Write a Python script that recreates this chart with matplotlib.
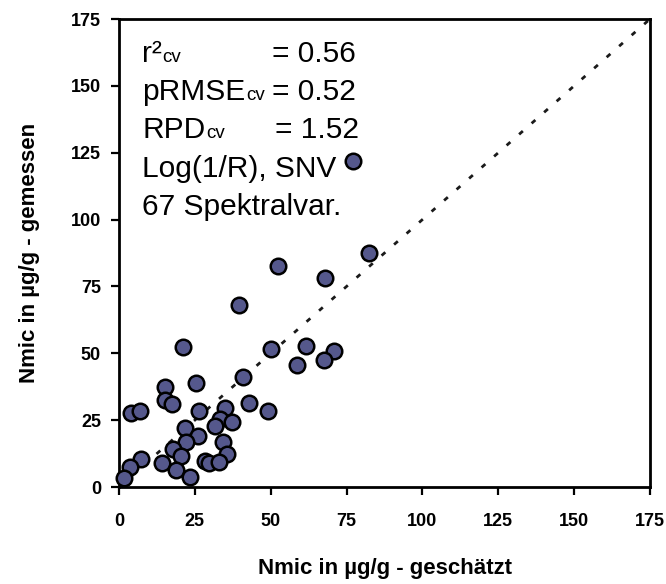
import matplotlib
matplotlib.use("Agg")
import matplotlib.pyplot as plt

plt.rcParams['font.family'] = ['Liberation Sans', 'DejaVu Sans']

# Nmic estimated (x) vs measured (y), µg/g
nmic_geschaetzt = [77.2, 82.4, 67.9, 52.5, 39.4, 21.0, 50.1, 61.5, 71.0, 58.6,
                   67.7, 40.8, 15.2, 25.3, 15.0, 17.4, 42.9, 49.2, 4.1, 6.9,
                   26.5, 34.9, 33.2, 37.1, 31.6, 21.9, 26.0, 22.1, 34.2, 17.9,
                   20.4, 35.5, 7.4, 14.1, 28.5, 29.6, 33.1, 3.6, 18.7, 23.5,
                   1.6]
nmic_gemessen = [122.0, 87.6, 78.0, 82.6, 68.0, 52.2, 51.5, 52.9, 50.9, 45.6,
                 47.5, 41.3, 37.4, 38.8, 32.5, 31.0, 31.4, 28.4, 27.7, 28.5,
                 28.3, 29.4, 25.5, 24.4, 22.9, 22.2, 19.0, 16.9, 16.9, 14.2,
                 11.6, 12.4, 10.5, 8.9, 9.8, 8.9, 9.3, 7.4, 6.2, 3.8,
                 3.4]

ticks = [0, 25, 50, 75, 100, 125, 150, 175]
axis_max = 175

fig = plt.figure(figsize=(6.66, 5.84), dpi=100)
ax = fig.add_axes([119 / 666, 1 - 487 / 584, (650 - 119) / 666, (487 - 19) / 584])

# 1:1 line
ax.plot([0, axis_max], [0, axis_max], color='#1a1a1a', lw=2,
        ls=(0, (1.8, 4.2)), zorder=1)

ax.scatter(nmic_geschaetzt, nmic_gemessen, s=125, color='#55588c',
           edgecolor='black', linewidth=1.8, zorder=3, clip_on=False)

ax.set_xlim(0, axis_max)
ax.set_ylim(0, axis_max)
ax.set_xticks(ticks)
ax.set_yticks(ticks)
ax.tick_params(direction='out', length=6, width=1.6, labelsize=13)
ax.tick_params(axis='y', pad=7)
ax.tick_params(axis='x', pad=13)
for lab in ax.get_xticklabels() + ax.get_yticklabels():
    lab.set_fontweight('bold')
for sp in ax.spines.values():
    sp.set_linewidth(2)

ax.set_xlabel('Nmic in µg/g - geschätzt', fontsize=16, fontweight='bold',
              labelpad=20)
ax.set_ylabel('Nmic in µg/g - gemessen', fontsize=16, fontweight='bold',
              labelpad=22)

# statistics block
big = 21.5
small = 13.5
x0 = 7.6
rows = [('r²', 'cv', '= 0.56', 158.9, 50.4),
        ('pRMSE', 'cv', '= 0.52', 144.7, 50.4),
        ('RPD', 'cv', '= 1.52', 130.5, 51.4)]
for main, sub, val, y, xv in rows:
    t = ax.text(x0, y, main, fontsize=big, va='baseline', ha='left')
    ax.annotate(sub, xy=(1, 0), xycoords=t, xytext=(0.5, 1.5),
                textcoords='offset points', fontsize=small,
                va='bottom', ha='left')
    ax.text(xv, y, val, fontsize=big, va='baseline', ha='left')

ax.text(x0, 115.9, 'Log(1/R), SNV', fontsize=big, va='baseline', ha='left')
ax.text(x0, 101.7, '67 Spektralvar.', fontsize=big, va='baseline', ha='left')

fig.savefig('out.png', dpi=100)
